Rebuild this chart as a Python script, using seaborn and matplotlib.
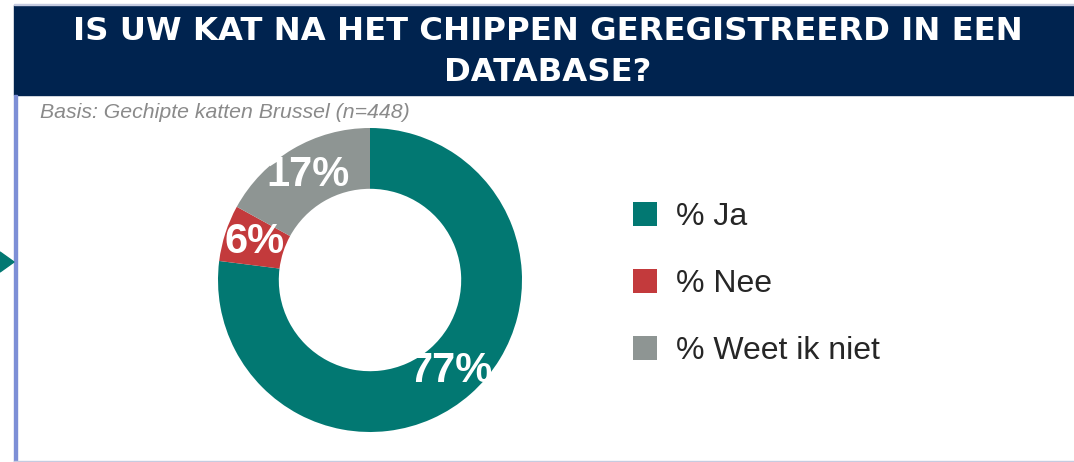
#!/usr/bin/env python3
import matplotlib
matplotlib.use("Agg")
import matplotlib.pyplot as plt
import seaborn as sns
from matplotlib.patches import Rectangle, Polygon

# Data
categories = ["% Ja", "% Nee", "% Weet ik niet"]
values = [77, 6, 17]
colors = ["#027872", "#c33a3c", "#8e9593"]
title = "IS UW KAT NA HET CHIPPEN GEREGISTREERD IN EEN\nDATABASE?"
subtitle = "Basis: Gechipte katten Brussel (n=448)"

sns.set_theme(style="white")
plt.rcParams["font.family"] = ["Liberation Sans", "DejaVu Sans"]
palette = sns.color_palette(colors)

W, H = 1074, 462
fig = plt.figure(figsize=(W / 100, H / 100), dpi=100)
fig.patch.set_facecolor("white")

# Frame: banner, thin lines, left accent
fig.add_artist(Rectangle((14 / W, 1 - 95 / H), 1 - 14 / W, 90 / H,
                         transform=fig.transFigure, color="#00234f", zorder=0))
fig.add_artist(Rectangle((14 / W, 1 - 5 / H), 1 - 14 / W, 1.2 / H,
                         transform=fig.transFigure, color="#c5cbe0", zorder=0))
fig.add_artist(Rectangle((14 / W, 0), 3 / W, 1 - 95 / H,
                         transform=fig.transFigure, color="#7d8fd6", zorder=0))
fig.add_artist(Rectangle((14 / W, 0), 1 - 14 / W, 1.5 / H,
                         transform=fig.transFigure, color="#c5cbe0", zorder=0))
fig.add_artist(Polygon([(0, 1 - 252 / H), (14 / W, 1 - 262 / H), (0, 1 - 272 / H)],
                       closed=True, transform=fig.transFigure, color="#027872"))

fig.text(548 / W, 1 - 52 / H, title, ha="center", va="center", color="white",
         fontsize=23.2, fontweight="bold", linespacing=1.38,
         family=["DejaVu Sans"])
fig.text(40 / W, 1 - 112 / H, subtitle, ha="left", va="center", color="#8a8a8a",
         fontsize=15.3, fontstyle="italic")

# Donut
cx, cy, r = 370, 280, 152
ax = fig.add_axes([(cx - r) / W, 1 - (cy + r) / H, 2 * r / W, 2 * r / H])
wedges, _, autotexts = ax.pie(
    values,
    colors=palette,
    startangle=90,
    counterclock=False,
    radius=1,
    autopct=lambda p: f"{p:.0f}%",
    pctdistance=0.8,
    wedgeprops=dict(width=0.4, edgecolor="none"),
    textprops=dict(color="white", fontsize=30, fontweight="bold"),
)
ax.set_xlim(-1, 1)
ax.set_ylim(-1, 1)
ax.set_aspect("equal")
ax.axis("off")

leg = fig.legend(
    wedges, categories,
    loc="center left",
    bbox_to_anchor=(633 / W, 1 - 284 / H),
    frameon=False,
    fontsize=23,
    handlelength=0.75,
    handleheight=0.75,
    handletextpad=0.6,
    labelspacing=1.16,
    borderpad=0,
    borderaxespad=0,
)
for t in leg.get_texts():
    t.set_color("#262626")

fig.savefig("out.png", dpi=100)
